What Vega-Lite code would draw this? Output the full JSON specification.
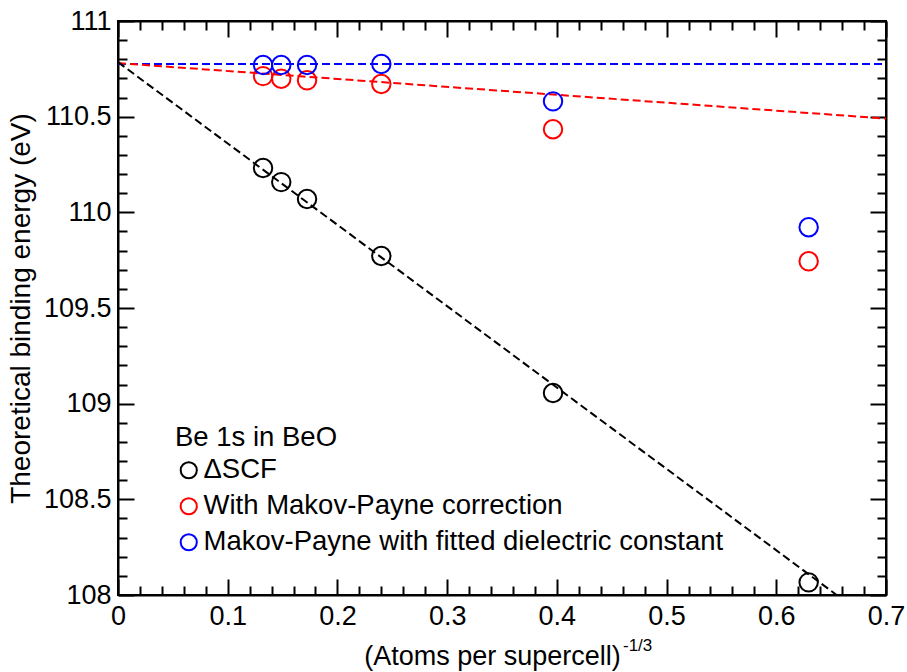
{
  "$schema": "https://vega.github.io/schema/vega-lite/v6.json",
  "width": 768,
  "height": 574,
  "autosize": "none",
  "padding": {"left": 118, "top": 21, "right": 21, "bottom": 77},
  "background": "white",
  "config": {
    "font": "Liberation Sans",
    "view": {"stroke": "black", "strokeWidth": 2},
    "axis": {
      "domainColor": "black",
      "domainWidth": 2,
      "tickColor": "black",
      "labelColor": "black",
      "titleColor": "black",
      "labelFont": "Liberation Sans",
      "titleFont": "Liberation Sans",
      "labelFontSize": 27,
      "titleFontWeight": "normal",
      "grid": false,
      "labelOverlap": false,
      "labelFlush": false
    }
  },
  "title": {
    "text": "-1/3",
    "orient": "bottom",
    "anchor": "start",
    "frame": "group",
    "dx": 505,
    "offset": -31,
    "fontSize": 17,
    "fontWeight": "normal",
    "font": "Liberation Sans",
    "color": "black"
  },
  "datasets": {
    "points": [
      {"series": "ΔSCF", "x": 0.1322, "y": 110.232},
      {"series": "ΔSCF", "x": 0.1488, "y": 110.158},
      {"series": "ΔSCF", "x": 0.1723, "y": 110.07},
      {"series": "ΔSCF", "x": 0.24, "y": 109.772},
      {"series": "ΔSCF", "x": 0.3965, "y": 109.056},
      {"series": "ΔSCF", "x": 0.6295, "y": 108.066},
      {"series": "With Makov-Payne correction", "x": 0.1322, "y": 110.712},
      {"series": "With Makov-Payne correction", "x": 0.1488, "y": 110.698},
      {"series": "With Makov-Payne correction", "x": 0.1723, "y": 110.69},
      {"series": "With Makov-Payne correction", "x": 0.24, "y": 110.671},
      {"series": "With Makov-Payne correction", "x": 0.3965, "y": 110.434},
      {"series": "With Makov-Payne correction", "x": 0.6295, "y": 109.744},
      {"series": "Makov-Payne with fitted dielectric constant", "x": 0.1322, "y": 110.77},
      {"series": "Makov-Payne with fitted dielectric constant", "x": 0.1488, "y": 110.77},
      {"series": "Makov-Payne with fitted dielectric constant", "x": 0.1723, "y": 110.77},
      {"series": "Makov-Payne with fitted dielectric constant", "x": 0.24, "y": 110.775},
      {"series": "Makov-Payne with fitted dielectric constant", "x": 0.3965, "y": 110.58},
      {"series": "Makov-Payne with fitted dielectric constant", "x": 0.6295, "y": 109.922}
    ],
    "lines": [
      {"fit": "black", "x": 0, "y": 110.785},
      {"fit": "black", "x": 0.655, "y": 108.0},
      {"fit": "red", "x": 0, "y": 110.78},
      {"fit": "red", "x": 0.7, "y": 110.49},
      {"fit": "blue", "x": 0, "y": 110.775},
      {"fit": "blue", "x": 0.7, "y": 110.775}
    ]
  },
  "layer": [
    {
      "data": {"name": "lines"},
      "transform": [{"filter": "datum.fit === 'blue'"}],
      "mark": {"type": "line", "strokeDash": [8, 4], "strokeWidth": 2, "clip": true, "color": "#0000ff"},
      "encoding": {
        "x": {
          "field": "x", "type": "quantitative",
          "scale": {"domain": [0, 0.7], "nice": false, "zero": false},
          "axis": {
            "orient": "top",
            "title": null,
            "labels": false,
            "values": [0,0.02,0.04,0.06,0.08,0.1,0.12,0.14,0.16,0.18,0.2,0.22,0.24,0.26,0.28,0.3,0.32,0.34,0.36,0.38,0.4,0.42,0.44,0.46,0.48,0.5,0.52,0.54,0.56,0.58,0.6,0.62,0.64,0.66,0.68,0.7],
            "tickSize": {"condition": {"test": "abs(datum.value*10 - round(datum.value*10)) < 0.001", "value": -16}, "value": -9},
            "tickWidth": 2
          }
        },
        "y": {
          "field": "y", "type": "quantitative",
          "scale": {"domain": [108, 111], "nice": false, "zero": false},
          "axis": {
            "orient": "right",
            "title": null,
            "labels": false,
            "values": [108,108.1,108.2,108.3,108.4,108.5,108.6,108.7,108.8,108.9,109,109.1,109.2,109.3,109.4,109.5,109.6,109.7,109.8,109.9,110,110.1,110.2,110.3,110.4,110.5,110.6,110.7,110.8,110.9,111],
            "tickSize": {"condition": {"test": "abs(datum.value*2 - round(datum.value*2)) < 0.001", "value": -16}, "value": -9},
            "tickWidth": 2
          }
        }
      }
    },
    {
      "data": {"name": "lines"},
      "transform": [{"filter": "datum.fit === 'red'"}],
      "mark": {"type": "line", "strokeDash": [8, 4], "strokeWidth": 2, "clip": true, "color": "#ff0000"},
      "encoding": {
        "x": {"field": "x", "type": "quantitative", "axis": null},
        "y": {"field": "y", "type": "quantitative", "axis": null}
      }
    },
    {
      "data": {"name": "lines"},
      "transform": [{"filter": "datum.fit === 'black'"}],
      "mark": {"type": "line", "strokeDash": [8, 4], "strokeWidth": 2, "clip": true, "color": "#000000"},
      "encoding": {
        "x": {"field": "x", "type": "quantitative", "axis": null},
        "y": {"field": "y", "type": "quantitative", "axis": null}
      }
    },
    {
      "data": {"name": "points"},
      "mark": {"type": "point", "shape": "circle", "filled": false, "size": 340, "strokeWidth": 2, "opacity": 1},
      "encoding": {
        "x": {
          "field": "x", "type": "quantitative",
          "axis": {
            "orient": "bottom",
            "title": "(Atoms per supercell)",
            "titleFontSize": 27,
            "titlePadding": 7,
            "titleX": 374,
            "values": [0,0.02,0.04,0.06,0.08,0.1,0.12,0.14,0.16,0.18,0.2,0.22,0.24,0.26,0.28,0.3,0.32,0.34,0.36,0.38,0.4,0.42,0.44,0.46,0.48,0.5,0.52,0.54,0.56,0.58,0.6,0.62,0.64,0.66,0.68,0.7],
            "labelExpr": "abs(datum.value*10 - round(datum.value*10)) < 0.001 ? format(datum.value, '.1~f') : ''",
            "tickSize": {"condition": {"test": "abs(datum.value*10 - round(datum.value*10)) < 0.001", "value": -16}, "value": -9},
            "tickWidth": 2,
            "labelPadding": 24
          }
        },
        "y": {
          "field": "y", "type": "quantitative",
          "axis": {
            "orient": "left",
            "title": "Theoretical binding energy (eV)",
            "titleFontSize": 28,
            "titlePadding": 8,
            "values": [108,108.1,108.2,108.3,108.4,108.5,108.6,108.7,108.8,108.9,109,109.1,109.2,109.3,109.4,109.5,109.6,109.7,109.8,109.9,110,110.1,110.2,110.3,110.4,110.5,110.6,110.7,110.8,110.9,111],
            "labelExpr": "abs(datum.value*2 - round(datum.value*2)) < 0.001 ? format(datum.value, '.1~f') : ''",
            "tickSize": {"condition": {"test": "abs(datum.value*2 - round(datum.value*2)) < 0.001", "value": -16}, "value": -9},
            "tickWidth": 2,
            "labelPadding": 23
          }
        },
        "color": {
          "field": "series", "type": "nominal",
          "scale": {"domain": ["ΔSCF", "With Makov-Payne correction", "Makov-Payne with fitted dielectric constant"], "range": ["#000000", "#ff0000", "#0000ff"]},
          "legend": {
            "orient": "none",
            "legendX": 57,
            "legendY": 403,
            "title": "Be 1s in BeO",
            "titleFontSize": 27.5,
            "titleFontWeight": "normal",
            "titleFont": "Liberation Sans",
            "titleColor": "black",
            "titlePadding": 5,
            "labelFontSize": 27.5,
            "labelFont": "Liberation Sans",
            "labelColor": "black",
            "labelLimit": 1000,
            "labelOffset": 1,
            "rowPadding": 7,
            "padding": 0,
            "symbolType": "circle",
            "symbolSize": 260,
            "symbolStrokeWidth": 2,
            "symbolOpacity": 1
          }
        }
      }
    }
  ]
}
